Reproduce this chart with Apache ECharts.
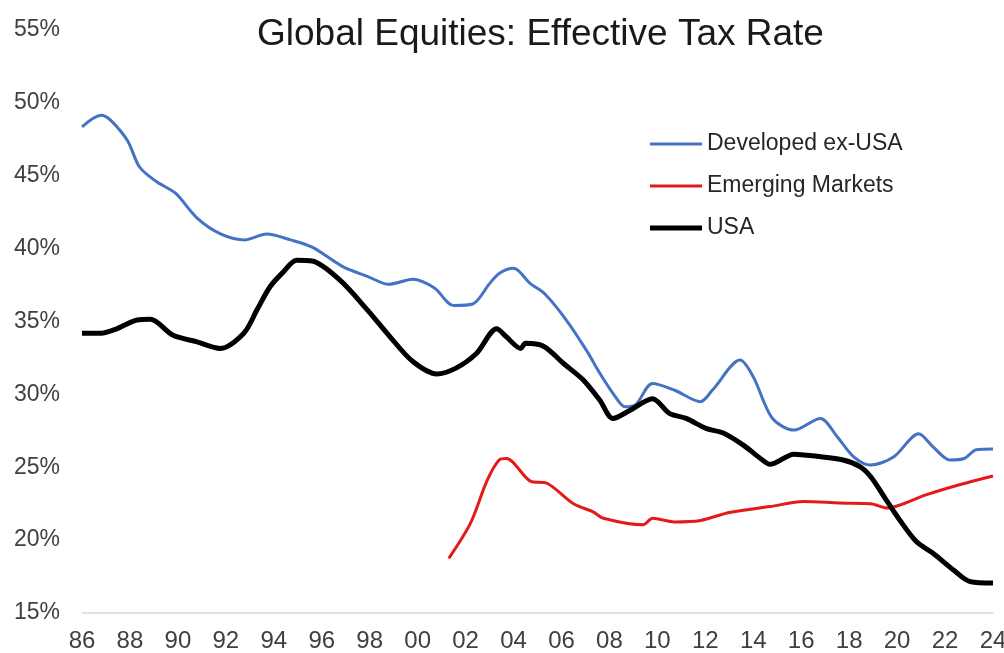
<!DOCTYPE html>
<html>
<head>
<meta charset="utf-8">
<script src="https://cdn.jsdelivr.net/npm/echarts@6/dist/echarts.min.js"></script>
<style>
  html, body { margin: 0; padding: 0; background: #fff; }
  #chart { width: 1004px; height: 653px; }
</style>
</head>
<body>
<div id="chart"></div>
<script>
// values (year, effective tax rate %)
var devYears = [1986.0, 1986.8, 1987.2, 1987.9, 1988.4, 1989.1, 1989.9, 1990.8, 1991.8, 1992.8, 1993.7, 1994.7, 1995.6, 1996.9, 1997.9, 1998.8, 1999.8, 2000.7, 2001.5, 2002.3, 2003.0, 2003.4, 2004.0, 2004.7, 2005.3, 2006.2, 2007.05, 2007.6, 2008.2, 2008.65, 2009.1, 2009.8, 2010.7, 2011.8, 2012.3, 2013.45, 2014.0, 2014.8, 2015.7, 2016.8, 2017.5, 2018.2, 2018.9, 2019.85, 2020.9, 2021.5, 2022.2, 2022.8, 2023.3, 2024.0];
var devValues = [48.35, 49.15, 48.8, 47.4, 45.6, 44.6, 43.8, 42.1, 41.0, 40.6, 41.0, 40.6, 40.1, 38.75, 38.1, 37.55, 37.9, 37.3, 36.1, 36.2, 37.6, 38.3, 38.65, 37.6, 36.9, 35.1, 33.0, 31.45, 29.95, 29.15, 29.3, 30.75, 30.3, 29.5, 30.3, 32.35, 31.2, 28.35, 27.55, 28.35, 27.1, 25.7, 25.15, 25.7, 27.3, 26.4, 25.5, 25.6, 26.2, 26.25];

var emYears = [2001.3, 2002.2, 2002.9, 2003.4, 2003.7, 2004.7, 2005.4, 2006.5, 2007.3, 2007.75, 2009.4, 2009.8, 2010.7, 2011.8, 2013.0, 2014.7, 2016.1, 2017.6, 2018.9, 2019.6, 2020.1, 2021.2, 2022.6, 2024.0];
var emValues = [18.75, 21.15, 24.1, 25.5, 25.6, 24.05, 23.9, 22.5, 21.95, 21.5, 21.05, 21.5, 21.25, 21.35, 21.9, 22.3, 22.65, 22.55, 22.5, 22.2, 22.4, 23.1, 23.8, 24.4];

var usaYears = [1986.0, 1986.8, 1987.45, 1988.3, 1988.85, 1989.8, 1990.8, 1991.75, 1992.75, 1993.3, 1993.85, 1994.4, 1994.95, 1995.6, 1996.75, 1997.9, 1998.85, 1999.8, 2000.8, 2001.6, 2002.45, 2003.3, 2003.7, 2004.3, 2004.5, 2005.25, 2006.1, 2006.9, 2007.6, 2008.15, 2008.85, 2009.8, 2010.5, 2011.2, 2012.05, 2012.75, 2013.6, 2014.3, 2014.7, 2015.7, 2016.65, 2017.75, 2018.45, 2018.9, 2019.55, 2020.1, 2020.8, 2021.5, 2022.35, 2023.05, 2024.0];
var usaValues = [34.2, 34.2, 34.5, 35.1, 35.15, 34.05, 33.6, 33.15, 34.2, 35.8, 37.4, 38.4, 39.2, 39.15, 37.85, 35.8, 33.95, 32.25, 31.4, 31.8, 32.8, 34.5, 33.95, 33.15, 33.5, 33.3, 32.1, 31.0, 29.6, 28.35, 28.9, 29.7, 28.7, 28.35, 27.65, 27.35, 26.5, 25.6, 25.2, 25.9, 25.75, 25.5, 25.05, 24.35, 22.75, 21.4, 19.9, 19.1, 17.95, 17.15, 17.05];

function pairs(xs, ys) {
  return xs.map(function (x, i) { return [x, ys[i]]; });
}
// plain line for the legend key; the stray points keep the icon box 52x14
function keyLine(t) {
  var y0 = 7 - t / 2, y1 = 7 + t / 2;
  return 'path://M0,0L0,0M0,' + y0 + 'L52,' + y0 + 'L52,' + y1 + 'L0,' + y1 + 'ZM52,14L52,14';
}

var font = 'Liberation Sans, Arial, sans-serif';
var myChart = echarts.init(document.getElementById('chart'));
myChart.setOption({
  animation: false,
  backgroundColor: '#fff',
  title: {
    text: 'Global Equities: Effective Tax Rate',
    left: 252,
    top: 11,
    textStyle: { fontFamily: font, fontSize: 37, fontWeight: 'normal', color: '#1a1a1a' }
  },
  legend: {
    orient: 'vertical',
    left: 645,
    top: 127,
    itemWidth: 52,
    itemHeight: 14,
    itemGap: 18,
    textStyle: { fontFamily: font, fontSize: 23, lineHeight: 24, color: '#262626' },
    data: [
      { name: 'Developed ex-USA', icon: keyLine(3) },
      { name: 'Emerging Markets', icon: keyLine(3) },
      { name: 'USA', icon: keyLine(5) }
    ]
  },
  grid: { left: 82, right: 11, top: 30, bottom: 40, outerBoundsMode: 'none', containLabel: false },
  xAxis: {
    type: 'value',
    min: 1986,
    max: 2024,
    interval: 2,
    axisLine: { show: true, lineStyle: { color: '#d9d9d9', width: 1.5 } },
    axisTick: { show: false },
    splitLine: { show: false },
    axisLabel: {
      margin: 16,
      fontFamily: font,
      fontSize: 24,
      color: '#404040',
      formatter: function (v) { return String(v % 100).padStart(2, '0'); }
    }
  },
  yAxis: {
    type: 'value',
    min: 15,
    max: 55,
    interval: 5,
    axisLine: { show: false },
    axisTick: { show: false },
    splitLine: { show: false },
    axisLabel: {
      margin: 22,
      fontFamily: font,
      fontSize: 23,
      color: '#404040',
      formatter: '{value}%'
    }
  },
  series: [
    {
      name: 'Developed ex-USA',
      type: 'line',
      data: pairs(devYears, devValues),
      symbol: 'none',
      smooth: 0.3,
      lineStyle: { color: '#4472C4', width: 3 },
      itemStyle: { color: '#4472C4' }
    },
    {
      name: 'Emerging Markets',
      type: 'line',
      data: pairs(emYears, emValues),
      symbol: 'none',
      smooth: 0.3,
      lineStyle: { color: '#E41A1A', width: 3 },
      itemStyle: { color: '#E41A1A' }
    },
    {
      name: 'USA',
      type: 'line',
      data: pairs(usaYears, usaValues),
      symbol: 'none',
      smooth: 0.3,
      lineStyle: { color: '#000000', width: 5 },
      itemStyle: { color: '#000000' }
    }
  ]
});
</script>
</body>
</html>
